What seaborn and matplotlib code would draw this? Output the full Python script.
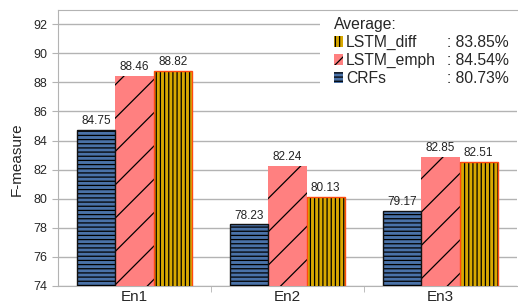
import numpy as np
import pandas as pd
import matplotlib
matplotlib.use("Agg")
import matplotlib.pyplot as plt
from matplotlib.patches import Patch, Rectangle
import seaborn as sns

datasets = ["En1", "En2", "En3"]
models = ["CRFs", "LSTM_emph", "LSTM_diff"]
crfs = [84.75, 78.23, 79.17]
lstm_emph = [88.46, 82.24, 82.85]
lstm_diff = [88.82, 80.13, 82.51]
averages = {"LSTM_diff": "83.85%", "LSTM_emph": "84.54%", "CRFs": "80.73%"}

face = {"CRFs": "#4a72a8", "LSTM_emph": "#ff8080", "LSTM_diff": "#d8a800"}
hatch = {"CRFs": "----", "LSTM_emph": "/", "LSTM_diff": "||||"}
border = {"CRFs": "#111111", "LSTM_emph": None, "LSTM_diff": "#ff4a10"}

df = pd.DataFrame({
    "dataset": np.repeat(datasets, len(models)),
    "model": models * len(datasets),
    "score": [v for trio in zip(crfs, lstm_emph, lstm_diff) for v in trio],
})

sns.set_style("white")
plt.rcParams["font.family"] = ["Liberation Sans", "DejaVu Sans"]
plt.rcParams["hatch.linewidth"] = 0.9
plt.rcParams["hatch.color"] = "black"
plt.rcParams["patch.force_edgecolor"] = False

fig = plt.figure(figsize=(5.18, 3.06), dpi=100)
ax = fig.add_axes([0.112, 0.066, 0.886, 0.902])

sns.barplot(data=df, x="dataset", y="score", hue="model", order=datasets,
            hue_order=models, palette=face, saturation=1, width=0.75, gap=0,
            legend=False, ax=ax, zorder=3)

for cont, m in zip(ax.containers, models):
    for p in cont:
        p.set_hatch(hatch[m])
        p.set_edgecolor(None)
        p.set_linewidth(0)
        if border[m]:
            ax.add_patch(Rectangle(p.get_xy(), p.get_width(), p.get_height(),
                                   fill=False, ec=border[m], lw=1.0, zorder=4))
    ax.bar_label(cont, fmt="%.2f", padding=2, fontsize=8.5, color="#222222")

ax.set_ylim(74, 93)
ax.set_xlim(-0.5, 2.5)
ax.set_yticks(np.arange(74, 93, 2))
ax.yaxis.grid(True, color="#b3b3b3", lw=1.0, zorder=0)
ax.set_axisbelow(True)
ax.set_xlabel("")
ax.set_ylabel("F-measure", fontsize=11)
ax.yaxis.set_label_coords(-0.074, 0.458)
ax.tick_params(axis="y", labelsize=9, length=4, color="#b3b3b3", left=True)
ax.tick_params(axis="x", which="major", labelsize=11, length=0, pad=3)
ax.set_xticks([0.5, 1.5], minor=True)
ax.tick_params(axis="x", which="minor", length=4, color="#b3b3b3", bottom=True)
for s in ax.spines.values():
    s.set_color("#b3b3b3")
ax.spines["right"].set_visible(False)

# white panel behind the legend, hides the grid like the original
ax.add_patch(Rectangle((0.57, 0.725), 0.43, 0.272, transform=ax.transAxes,
                       fc="white", ec="none", zorder=2))

handles = [Patch(facecolor=face[m], hatch=hatch[m], edgecolor=None, lw=0)
           for m in models[::-1]]
leg = ax.legend(handles, models[::-1], title="Average:", loc="upper left",
                bbox_to_anchor=(0.59, 0.99), fontsize=11.3, title_fontsize=11.3,
                alignment="left", frameon=False, handlelength=0.6,
                handleheight=0.7, handletextpad=0.2, borderpad=0.3,
                labelspacing=0.17, borderaxespad=0, ncol=1)
leg.set_zorder(10)

fig.canvas.draw()
inv = ax.transAxes.inverted()
for t, m in zip(leg.get_texts(), models[::-1]):
    bb = t.get_window_extent()
    _, yc = inv.transform(((bb.x0 + bb.x1) / 2, (bb.y0 + bb.y1) / 2))
    ax.text(0.847, yc, ": " + averages[m], transform=ax.transAxes,
            fontsize=11.3, va="center", ha="left", zorder=11)

fig.savefig("out.png", dpi=100)
